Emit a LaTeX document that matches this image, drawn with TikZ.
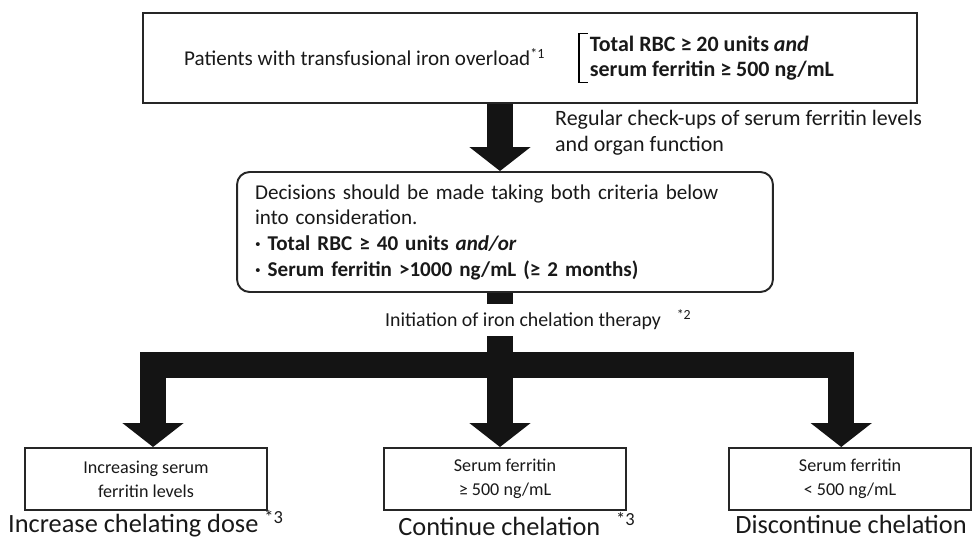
\documentclass[tikz,border=0pt]{standalone}
\usepackage{fontspec}
\setmainfont{Carlito}
\usetikzlibrary{arrows.meta}
\pgfdeclarelayer{bg}
\pgfsetlayers{bg,main}

\begin{document}
\begin{tikzpicture}[x=0.02cm, y=-0.02cm,
        every node/.style={text=black!90},
        box/.style={draw=black!85, line width=1.1pt, fill=white},
        rbox/.style={box, rounded corners=0.25cm},
        sbox/.style={box, minimum width=4.84cm, minimum height=1.24cm, align=center, font=\fontsize{10.3}{13.8}\selectfont},
        outcome/.style={inner sep=1pt, font=\fontsize{15}{16}\selectfont},
        fat/.style={draw=black!92, line width=0.52cm, line join=miter},
        tip/.style={-{Triangle[width=1.2cm,length=0.48cm]}}]
        \useasboundingbox (0,0) rectangle (978,540);
        \coordinate (col) at (500,0);
        \node (top) [box, minimum width=15.48cm, minimum height=1.8cm] at (530,58) {};
        \node (pat) [anchor=west, font=\fontsize{12}{14}\selectfont] at (178,57) {Patients with transfusional iron overload\textsuperscript{*1}};
        \node (crit) [anchor=west, align=left, inner xsep=6pt, inner ysep=1pt, font=\fontsize{12.5}{14.5}\selectfont\bfseries] at (579,58) {Total RBC ≥ 20 units \textit{and}\\serum ferritin ≥ 500 ng/mL};
        \draw[line width=0.8pt] ([xshift=5pt]crit.north west) -- (crit.north west) -- (crit.south west) -- ([xshift=5pt]crit.south west);
        \node (reg) [anchor=west, align=left, font=\fontsize{12.5}{14.7}\selectfont] at (549,133) {Regular check-ups of serum ferritin levels\\and organ function};
        \node (dec) [rbox, text width=10cm, inner xsep=0.36cm, minimum height=2.4cm, align=left, font=\fontsize{12}{14.6}\selectfont] at (505,232) {Decisions should be made taking both criteria below\\into consideration.\\\textbf{· Total RBC ≥ 40 units \textit{and/or}}\\\textbf{· Serum ferritin >1000 ng/mL (≥ 2 months)}};
        \node (init) [anchor=west, font=\fontsize{11.3}{13}\selectfont] at (379,320) {Initiation of iron chelation therapy\hspace{0.8em}\textsuperscript{*2}};
        \coordinate (bar) at (500,365);
        \node (inc) [sbox] at (146,479) {Increasing serum\\ferritin levels};
        \node (hi) [sbox] at (505,479) {Serum ferritin\\≥ 500 ng/mL};
        \node (lo) [sbox] at (850,479) {Serum ferritin\\< 500 ng/mL};
        \node (incout) [outcome] at (146,524) {Increase chelating dose \textsuperscript{*3}};
        \node (hiout) [outcome] at (517,524) {Continue chelation\hspace{0.6em}\textsuperscript{*3}};
        \node (loout) [outcome] at (851,524) {Discontinue chelation};
        \begin{pgfonlayer}{bg}
                \draw[fat, tip] (top.south -| col) -- (dec.north -| col);
                \draw[fat] (dec.south -| col) -- (init.north -| col);
                \draw[fat, tip] (init.south -| col) -- (hi.north -| col);
                \draw[fat, tip] (init.south -| col) -- (bar) -| ([xshift=4pt]inc.north);
                \draw[fat, tip] (bar) -| ([xshift=-5pt]lo.north);
        \end{pgfonlayer}
\end{tikzpicture}
\end{document}
